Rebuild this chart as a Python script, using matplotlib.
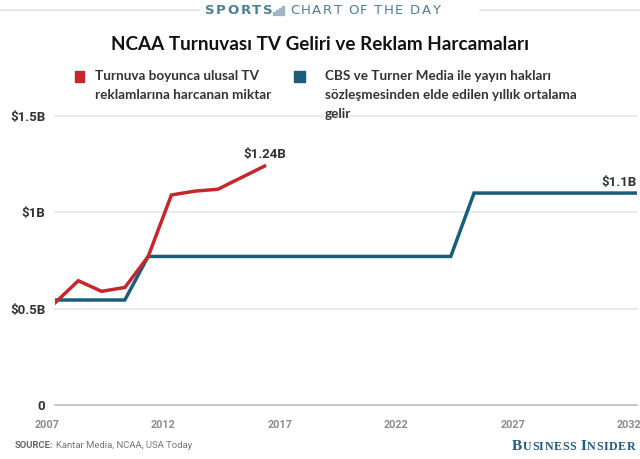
import matplotlib
matplotlib.use("Agg")
import matplotlib.pyplot as plt
import matplotlib.transforms as mtransforms
from matplotlib.patches import Rectangle
from matplotlib.lines import Line2D

# ---- data ----
ad_years = [2007, 2008, 2009, 2010, 2011, 2012, 2013, 2014, 2015, 2016]
ad_spend = [0.53, 0.645, 0.59, 0.61, 0.77, 1.09, 1.11, 1.12, 1.18, 1.24]
rights_years = [2007, 2010, 2011, 2024, 2025, 2032]
rights_avg = [0.545, 0.545, 0.771, 0.771, 1.1, 1.1]
x_ticks = [2007, 2012, 2017, 2022, 2027, 2032]
y_ticks = [0, 0.5, 1.0, 1.5]
y_labels = ["0", "$0.5B", "$1B", "$1.5B"]
title = "NCAA Turnuvası TV Geliri ve Reklam Harcamaları"
legend_red = "Turnuva boyunca ulusal TV\nreklamlarına harcanan miktar"
legend_blue = "CBS ve Turner Media ile yayın hakları\nsözleşmesinden elde edilen yıllık ortalama\ngelir"

RED = "#c4282d"
BLUE = "#1b5e7b"
HEAD = "#4f7f94"

W, H = 640, 459
fig = plt.figure(figsize=(W / 100, H / 100), dpi=100)
fig.patch.set_facecolor("white")

def fx(px):
    return px / W

def fy(py):
    return 1 - py / H

ax = fig.add_axes([fx(55), fy(405), fx(637) - fx(55), fy(116) - fy(405)])
ax.set_xlim(2007, 2032)
ax.set_ylim(0, 1.5)
for s in ax.spines.values():
    s.set_visible(False)
for yv in y_ticks:
    ax.axhline(yv, color="#bdbdbd" if yv == 0 else "#e8e8e8", lw=1.2, zorder=1, clip_on=False)

ax.plot(rights_years, rights_avg, color=BLUE, lw=2.5, zorder=3, solid_joinstyle="miter")
ax.plot(ad_years, ad_spend, color=RED, lw=2.5, zorder=4, solid_joinstyle="miter")

ax.set_xticks(x_ticks)
ax.set_xticklabels([str(v) for v in x_ticks], fontfamily="Roboto", fontweight="bold",
                   fontsize=7.8, color="#8c8c8c")
ax.set_yticks(y_ticks)
ax.set_yticklabels(y_labels, fontfamily="Roboto", fontweight="bold", fontsize=9.5, color="#333333")
ax.tick_params(axis="both", length=0)
ax.tick_params(axis="y", pad=7)
ax.tick_params(axis="x", pad=11)
fig.canvas.draw()
for lab in ax.get_xticklabels():
    lab.set_transform(lab.get_transform() +
                      mtransforms.ScaledTranslation(-8 / 100, 0, fig.dpi_scale_trans))

ax.text(ad_years[-1], ad_spend[-1] + 0.025, "$1.24B", ha="center", va="bottom",
        fontfamily="Roboto", fontweight="bold", fontsize=9.5, color="#333333")
ax.text(rights_years[-1], rights_avg[-1] + 0.02, "$1.1B", ha="right", va="bottom",
        fontfamily="Roboto", fontweight="bold", fontsize=9.5, color="#333333")

# ---- title ----
fig.text(0.5, fy(44), title, ha="center", va="center", fontfamily="Lato",
         fontweight="bold", fontsize=13.6, color="#111111")

# ---- legend ----
fig.patches.append(Rectangle((fx(75), fy(82)), fx(84) - fx(75), fy(71) - fy(82),
                             transform=fig.transFigure, color=RED, figure=fig))
fig.patches.append(Rectangle((fx(294), fy(82)), fx(305) - fx(294), fy(71) - fy(82),
                             transform=fig.transFigure, color=BLUE, figure=fig))
fig.text(fx(95), fy(70), legend_red, ha="left", va="top", fontfamily="Lato",
         fontweight="bold", fontsize=9.7, color="#333333", linespacing=1.7)
fig.text(fx(325), fy(70), legend_blue, ha="left", va="top", fontfamily="Lato",
         fontweight="bold", fontsize=9.7, color="#333333", linespacing=1.7)

# ---- header ----
fig.canvas.draw()
renderer = fig.canvas.get_renderer()

def spaced(x_px, y_px, s, spacing, **kw):
    x = x_px
    for ch in s:
        if ch == " ":
            x += kw.get("fontsize", 10) * 0.32 + spacing
            continue
        t = fig.text(fx(x), fy(y_px), ch, ha="left", va="center", **kw)
        bb = t.get_window_extent(renderer)
        x += bb.width + spacing
    return x

fig.lines.append(Line2D([0, fx(199)], [fy(10), fy(10)], transform=fig.transFigure,
                        color="#e3e3e3", lw=1.2))
fig.lines.append(Line2D([fx(480), 1], [fy(10), fy(10)], transform=fig.transFigure,
                        color="#e3e3e3", lw=1.2))
spaced(205, 10.5, "SPORTS", 1.6, fontfamily="DejaVu Sans", fontweight="bold", fontsize=9.5, color=HEAD)
# small bar icon
for i, (h) in enumerate([3, 5, 7, 9]):
    fig.patches.append(Rectangle((fx(273 + i * 3), fy(15)), fx(2.2), fy(15 - h) - fy(15),
                                 transform=fig.transFigure, color="#9fb6c2", figure=fig))
spaced(290, 10.5, "CHART OF THE DAY", 1.6, fontfamily="DejaVu Sans", fontsize=9.5, color=HEAD)

# ---- footer ----
t1 = fig.text(fx(15), fy(446), "SOURCE:", ha="left", va="center", fontfamily="Roboto",
              fontweight="bold", fontsize=6.8, color="#666666")
bb = t1.get_window_extent(renderer)
fig.text(fx(15) + (bb.width + 2) / W, fy(446), "Kantar Media, NCAA, USA Today", ha="left",
         va="center", fontfamily="Roboto", fontsize=6.8, color="#777777")

# Business Insider small caps
x = 512
BI = "#1f5c80"
for word in ["BUSINESS", "INSIDER"]:
    for j, ch in enumerate(word):
        fs = 11 if j == 0 else 8.6
        t = fig.text(fx(x), fy(450), ch, ha="left", va="baseline", fontfamily="Liberation Serif",
                     fontweight="bold", fontsize=fs, color=BI)
        x += t.get_window_extent(renderer).width + 0.6
    x += 4

fig.savefig("out.png", dpi=100)
